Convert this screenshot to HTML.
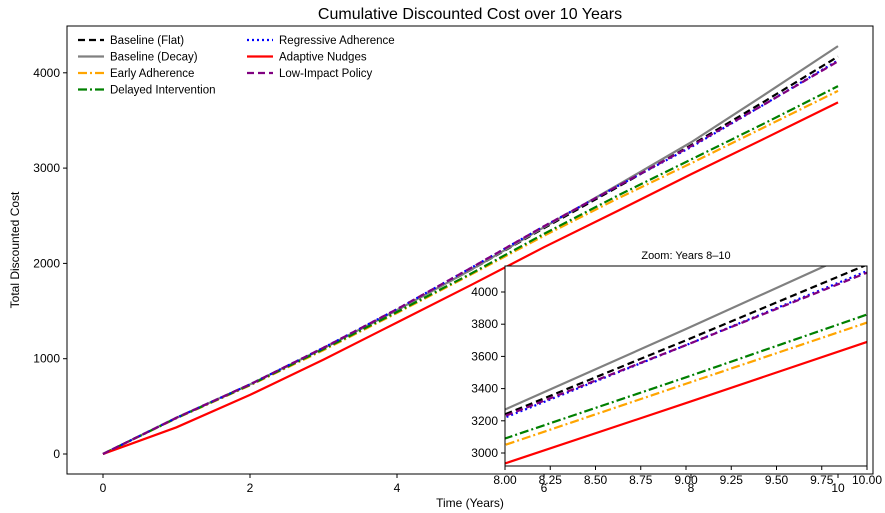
<!DOCTYPE html>
<html><head><meta charset="utf-8"><style>
html,body{margin:0;padding:0;background:#fff;overflow:hidden;width:885px;height:513px;}
svg{display:block;overflow:hidden;}
svg text{font-family:"Liberation Sans",sans-serif;fill:#000;}
</style></head><body>
<svg id="chart" width="885" height="513" xmlns="http://www.w3.org/2000/svg">
<defs>
<clipPath id="mainclip"><rect x="67" y="26" width="806" height="448"/></clipPath>
<clipPath id="insetclip"><rect x="505" y="266" width="362" height="200"/></clipPath>
</defs>
<text x="470" y="19" font-size="16" text-anchor="middle">Cumulative Discounted Cost over 10 Years</text>
<g id="main"></g>
<g id="legend"></g>
<g id="inset"></g>
</svg>
<script>
const years=[0,1,2,3,4,5,6,7,8,9,10];
const flat=[0,380,730,1110,1510,1930,2370,2800,3240,3700,4170];
const decay=[0,380,730,1110,1510,1930,2380,2820,3270,3770,4280];
const early=[0,375,720,1090,1480,1880,2290,2680,3050,3430,3810];
const delayed=[0,378,725,1100,1490,1890,2310,2710,3090,3470,3860];
const regressive=[0,380,730,1115,1520,1950,2390,2810,3220,3670,4130];
const adaptive=[0,280,620,990,1380,1770,2170,2550,2935,3310,3690];
const lowImpact=[0,380,730,1115,1520,1950,2390,2810,3230,3670,4120];
const seriesNames=["Baseline (Flat)","Baseline (Decay)","Early Adherence","Delayed Intervention","Regressive Adherence","Adaptive Nudges","Low-Impact Policy"];
const xTicks=[0,2,4,6,8,10];
const yTicks=[0,1000,2000,3000,4000];
const insetXTicks=[8,8.25,8.5,8.75,9,9.25,9.5,9.75,10];
const insetYTicks=[3000,3200,3400,3600,3800,4000];

const NS="http://www.w3.org/2000/svg";
const data=[flat,decay,early,delayed,regressive,adaptive,lowImpact];
const styles=[
 {c:"#000",d:"7,4"},{c:"#808080",d:""},{c:"#ffa500",d:"9,3,2,3"},{c:"#008000",d:"9,3,2,3"},
 {c:"#0000ff",d:"2,3"},{c:"#ff0000",d:""},{c:"#800080",d:"7,4"}];
const slugs=["baseline-flat","baseline-decay","early-adherence","delayed-intervention","regressive-adherence","adaptive-nudges","low-impact-policy"];
function mk(tag,attrs,parent){const e=document.createElementNS(NS,tag);for(const k in attrs)e.setAttribute(k,attrs[k]);parent.appendChild(e);return e;}
const sx=v=>103+v*73.5, sy=v=>454-v*0.0953;
const ix=v=>505+(v-8)*181, iy=v=>453-(v-3000)*0.161;

const main=document.getElementById('main');
mk('rect',{x:67,y:26,width:806,height:448,fill:"none",stroke:"#000","stroke-width":1},main);
xTicks.forEach(t=>{mk('line',{x1:sx(t),x2:sx(t),y1:474,y2:478,stroke:"#000"},main);
 const tx=mk('text',{x:sx(t),y:492,"font-size":12,"text-anchor":"middle"},main);tx.textContent=t;
 
 });
yTicks.forEach(t=>{mk('line',{x1:63,x2:67,y1:sy(t),y2:sy(t),stroke:"#000"},main);
 const tx=mk('text',{x:60,y:sy(t)+4,"font-size":12,"text-anchor":"end"},main);tx.textContent=t;
 
 });
let xl=mk('text',{x:470,y:507,"font-size":12,"text-anchor":"middle"},main);xl.textContent="Time (Years)";


let yl=mk('text',{x:19,y:250,"font-size":12,"text-anchor":"middle",transform:"rotate(-90 19 250)"},main);yl.textContent="Total Discounted Cost";


const mg=mk('g',{"clip-path":"url(#mainclip)"},main);
data.forEach((s,i)=>{const p=mk('polyline',{points:years.map((y,j)=>sx(y)+","+sy(s[j])).join(" "),fill:"none",stroke:styles[i].c,"stroke-width":2.2,"stroke-dasharray":styles[i].d},mg);
 
 });

const lg=document.getElementById('legend');
seriesNames.forEach((n,i)=>{const col=i<4?0:1,row=i<4?i:i-4;const x0=col?247:78,y0=40+row*16.5;
 const g=mk('g',{},lg);
 
 
 mk('line',{x1:x0,x2:x0+26,y1:y0,y2:y0,stroke:styles[i].c,"stroke-width":2.2,"stroke-dasharray":styles[i].d},g);
 const t=mk('text',{x:x0+32,y:y0+4,"font-size":11.5},g);t.textContent=n;});

const ins=document.getElementById('inset');


mk('rect',{x:505,y:266,width:362,height:200,fill:"#fff",stroke:"none"},ins);
let it=mk('text',{x:686,y:259,"font-size":11,"text-anchor":"middle"},ins);it.textContent="Zoom: Years 8–10";


insetXTicks.forEach(t=>{mk('line',{x1:ix(t),x2:ix(t),y1:466,y2:470,stroke:"#000"},ins);
 const tx=mk('text',{x:ix(t),y:484,"font-size":12,"text-anchor":"middle"},ins);tx.textContent=t.toFixed(2);
 
 });
insetYTicks.forEach(t=>{mk('line',{x1:501,x2:505,y1:iy(t),y2:iy(t),stroke:"#000"},ins);
 const tx=mk('text',{x:498,y:iy(t)+4,"font-size":12,"text-anchor":"end"},ins);tx.textContent=t;
 
 });
const ig=mk('g',{"clip-path":"url(#insetclip)"},ins);
data.forEach((s,i)=>{const p=mk('polyline',{points:years.map((y,j)=>ix(y)+","+iy(s[j])).join(" "),fill:"none",stroke:styles[i].c,"stroke-width":2.2,"stroke-dasharray":styles[i].d},ig);
 
 });
mk('rect',{x:505,y:266,width:362,height:200,fill:"none",stroke:"#000","stroke-width":1},ins);
</script>
</body></html>
